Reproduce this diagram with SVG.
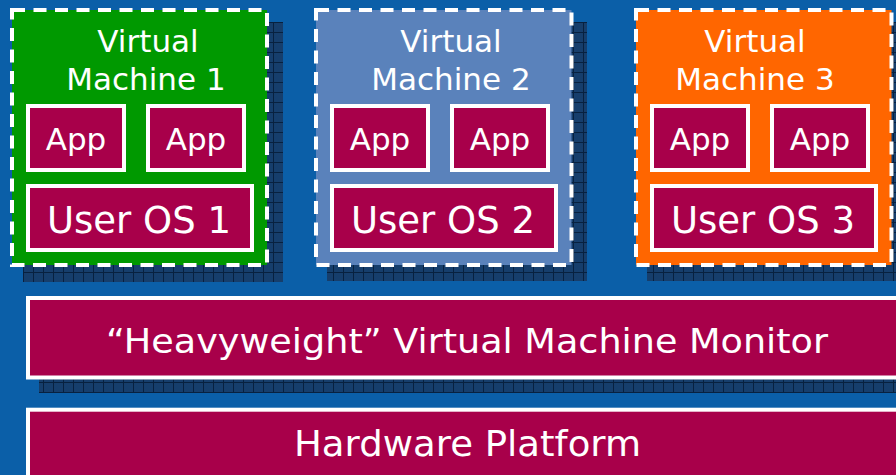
<svg xmlns="http://www.w3.org/2000/svg" width="896" height="475" viewBox="0 0 896 475">
  <defs>
    <pattern id="hatch" x="3" y="2" width="10" height="10" patternUnits="userSpaceOnUse">
      <rect width="10" height="10" fill="#163e6c"/>
      <path d="M0 0.5H10M0.5 0V10" stroke="#08213f" stroke-width="1"/>
    </pattern>
  </defs>
  <style>
    .shadow { fill: url(#hatch); }
    .vm { stroke: #ffffff; stroke-width: 4; stroke-dasharray: 13 8.5; }
    .box { fill: #a8004a; stroke: #ffffff; stroke-width: 4; }
    text { font-family: "DejaVu Sans", Verdana, sans-serif; fill: #ffffff; }
    .title { font-size: 31px; text-anchor: middle; }
    .app { font-size: 31px; text-anchor: middle; }
    .os { font-size: 37px; text-anchor: middle; }
    .bar { font-size: 33px; }
  </style>
  <rect width="896" height="475" fill="#0b5fa8"/>

  <g id="vm1">
    <rect class="shadow" x="23" y="22" width="260" height="260"/>
    <rect class="vm" x="12" y="10" width="255" height="255" fill="#009900"/>
    <text class="title" x="148" y="52">Virtual</text>
    <text class="title" x="146" y="90">Machine 1</text>
    <g id="vm1-app1"><rect class="box" x="28" y="106" width="96" height="64"/><text class="app" x="76" y="149.5">App</text></g>
    <g id="vm1-app2"><rect class="box" x="148" y="106" width="96" height="64"/><text class="app" x="196" y="149.5">App</text></g>
    <g id="vm1-os"><rect class="box" x="28" y="186" width="224" height="64"/><text class="os" x="139" y="232.5">User OS 1</text></g>
  </g>

  <g id="vm2">
    <rect class="shadow" x="327" y="22" width="260" height="259"/>
    <rect class="vm" x="316" y="10" width="255.5" height="255" fill="#5a82bb"/>
    <text class="title" x="451" y="52">Virtual</text>
    <text class="title" x="451" y="90">Machine 2</text>
    <g id="vm2-app1"><rect class="box" x="332" y="106" width="96" height="64"/><text class="app" x="380" y="149.5">App</text></g>
    <g id="vm2-app2"><rect class="box" x="452" y="106" width="96" height="64"/><text class="app" x="500" y="149.5">App</text></g>
    <g id="vm2-os"><rect class="box" x="332" y="186" width="224" height="64"/><text class="os" x="443" y="232.5">User OS 2</text></g>
  </g>

  <g id="vm3">
    <rect class="shadow" x="647" y="22" width="260" height="259"/>
    <rect class="vm" x="636" y="10" width="255.5" height="255" fill="#ff6600"/>
    <text class="title" x="755" y="52">Virtual</text>
    <text class="title" x="755" y="90">Machine 3</text>
    <g id="vm3-app1"><rect class="box" x="652" y="106" width="96" height="64"/><text class="app" x="700" y="149.5">App</text></g>
    <g id="vm3-app2"><rect class="box" x="772" y="106" width="96" height="64"/><text class="app" x="820" y="149.5">App</text></g>
    <g id="vm3-os"><rect class="box" x="652" y="186" width="224" height="64"/><text class="os" x="763" y="232.5">User OS 3</text></g>
  </g>

  <g id="vmm">
    <rect class="shadow" x="39" y="312" width="880" height="81"/>
    <rect class="box" x="28" y="298" width="880" height="79.5"/>
    <text class="bar" x="106" y="352.7" textLength="722" lengthAdjust="spacingAndGlyphs">“Heavyweight” Virtual Machine Monitor</text>
  </g>

  <g id="hardware">
    <rect class="box" x="28" y="409.7" width="880" height="90"/>
    <text class="bar" x="294" y="456" font-size="35" style="font-size:35px" textLength="347" lengthAdjust="spacingAndGlyphs">Hardware Platform</text>
  </g>
</svg>
